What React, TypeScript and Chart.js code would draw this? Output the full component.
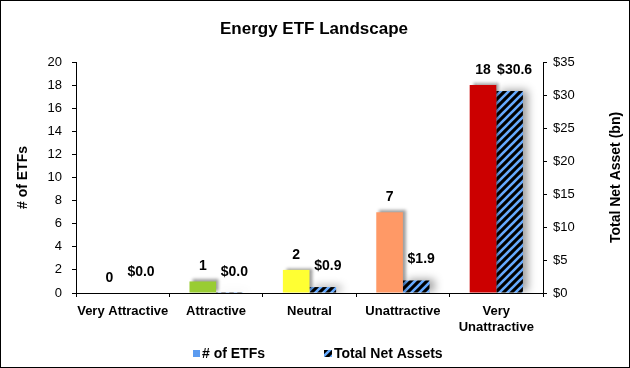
import React, { useEffect, useRef } from 'react';
import { Chart, registerables } from 'chart.js';

Chart.register(...registerables);

const FONT = '"Liberation Sans", Arial, Helvetica, sans-serif';

const chartTitle = 'Energy ETF Landscape';
const categories: (string | string[])[] = ['Very Attractive', 'Attractive', 'Neutral', 'Unattractive', ['Very', 'Unattractive']];
const etfCounts = [0, 1, 2, 7, 18];
const netAssets = [0.0, 0.02, 0.9, 1.9, 30.6];
const countSeriesName = '# of ETFs';
const assetSeriesName = 'Total Net Assets';
const leftAxisTitle = '# of ETFs';
const rightAxisTitle = 'Total Net Asset (bn)';
const leftTicks = { min: 0, max: 20, step: 2 };
const rightTicks = { min: 0, max: 35, step: 5 };
const ratingColors = ['#A6A6A6', '#99CC33', '#FFFF33', '#FF9966', '#CC0000'];
const legendBlue = '#5B9BF0';
const hatchBlue = '#66AAFF';

function makeHatch(): CanvasPattern | string {
  const c = document.createElement('canvas');
  c.width = 8;
  c.height = 8;
  const g = c.getContext('2d');
  if (!g) return hatchBlue;
  g.fillStyle = '#000';
  g.fillRect(0, 0, 8, 8);
  g.strokeStyle = hatchBlue;
  g.lineWidth = 2.6;
  g.beginPath();
  g.moveTo(-2, 10); g.lineTo(10, -2);
  g.moveTo(-6, 6); g.lineTo(6, -6);
  g.moveTo(2, 14); g.lineTo(14, 2);
  g.stroke();
  return g.createPattern(c, 'repeat') || hatchBlue;
}

export default function App() {
  const ref = useRef<HTMLCanvasElement>(null);
  useEffect(() => {
    if (!ref.current) return;
    const hatch = makeHatch();
    const decor = {
      id: 'decor',
      beforeDatasetDraw(chart: any, args: any) {
        const ctx = chart.ctx;
        ctx.save();
        ctx.shadowColor = 'rgba(0,0,0,0.38)';
        if (args.index === 0) {
          ctx.shadowBlur = 3; ctx.shadowOffsetX = 3; ctx.shadowOffsetY = -2;
        } else {
          ctx.shadowBlur = 9; ctx.shadowOffsetX = 5; ctx.shadowOffsetY = -1;
        }
      },
      afterDatasetDraw(chart: any) {
        chart.ctx.restore();
      },
      afterDatasetsDraw(chart: any) {
        const ctx = chart.ctx;
        ctx.save();
        ctx.fillStyle = '#000';
        ctx.font = `bold 14px ${FONT}`;
        ctx.textAlign = 'center';
        ctx.textBaseline = 'middle';
        chart.getDatasetMeta(0).data.forEach((el: any, i: number) => {
          ctx.fillText(String(etfCounts[i]), el.x, el.y - 15);
        });
        chart.getDatasetMeta(1).data.forEach((el: any, i: number) => {
          ctx.fillText('$' + netAssets[i].toFixed(1), el.x + 5, el.y - 21);
        });
        ctx.restore();
      },
      afterDraw(chart: any) {
        const ctx = chart.ctx;
        const ca = chart.chartArea;
        const midY = (ca.top + ca.bottom) / 2;
        ctx.save();
        ctx.fillStyle = '#000';
        ctx.textBaseline = 'middle';
        ctx.textAlign = 'center';
        ctx.font = `bold 17px ${FONT}`;
        ctx.fillText(chartTitle, 314, 29);
        ctx.font = `bold 14px ${FONT}`;
        ctx.save();
        ctx.translate(23, midY);
        ctx.rotate(-Math.PI / 2);
        ctx.fillText(leftAxisTitle, 0, 0);
        ctx.restore();
        ctx.save();
        ctx.translate(616, midY);
        ctx.rotate(-Math.PI / 2);
        ctx.fillText(rightAxisTitle, 0, 0);
        ctx.restore();
        // legend
        ctx.textAlign = 'left';
        ctx.fillStyle = legendBlue;
        ctx.fillRect(193, 350, 7, 7);
        ctx.fillStyle = '#000';
        ctx.fillText(countSeriesName, 202, 354);
        ctx.fillStyle = hatch as any;
        ctx.fillRect(324, 350, 8, 7);
        ctx.fillStyle = '#000';
        ctx.fillText(assetSeriesName, 334, 354);
        // border
        ctx.strokeStyle = '#000';
        ctx.lineWidth = 1;
        ctx.strokeRect(0.5, 0.5, 629, 367);
        ctx.restore();
      },
    };
    const tickFont = { family: FONT, size: 13 };
    const chart = new Chart(ref.current, {
      type: 'bar',
      data: {
        labels: categories as any,
        datasets: [
          {
            label: countSeriesName,
            data: etfCounts,
            yAxisID: 'y',
            backgroundColor: ratingColors,
            borderWidth: 0,
            categoryPercentage: 0.57,
            barPercentage: 1,
          },
          {
            label: assetSeriesName,
            data: netAssets,
            yAxisID: 'y2',
            backgroundColor: hatch as any,
            borderWidth: 0,
            categoryPercentage: 0.57,
            barPercentage: 1,
          },
        ],
      },
      options: {
        responsive: false,
        animation: false,
        layout: { padding: { top: 62, left: 0, right: 0, bottom: 0 } },
        plugins: {
          legend: { display: false },
          title: { display: false },
          tooltip: { enabled: false },
        },
        scales: {
          x: {
            offset: true,
            grid: { offset: true, drawOnChartArea: false, tickLength: 4, color: '#000' },
            border: { color: '#000', width: 1 },
            ticks: { color: '#000', font: { family: FONT, size: 13, weight: 'bold' }, maxRotation: 0, autoSkip: false, padding: 7 },
            afterFit: (s: any) => { s.height = 75; },
          },
          y: {
            position: 'left',
            min: leftTicks.min,
            max: leftTicks.max,
            ticks: { stepSize: leftTicks.step, color: '#000', font: tickFont, padding: 10 },
            grid: { drawOnChartArea: false, tickLength: 4, color: '#000' },
            border: { color: '#000', width: 1 },
            afterFit: (s: any) => { s.width = 76; },
          },
          y2: {
            position: 'right',
            min: rightTicks.min,
            max: rightTicks.max,
            ticks: { stepSize: rightTicks.step, color: '#000', font: tickFont, padding: 6, callback: (v: any) => '$' + v },
            grid: { drawOnChartArea: false, tickLength: 4, color: '#000' },
            border: { color: '#000', width: 1 },
            afterFit: (s: any) => { s.width = 87; },
          },
        },
      } as any,
      plugins: [decor],
    });
    return () => chart.destroy();
  }, []);
  return (
    <div style={{ position: 'fixed', left: 0, top: 0, width: 630, height: 368, background: '#fff' }}>
      <canvas ref={ref} width={630} height={368} style={{ display: 'block', width: 630, height: 368 }} />
    </div>
  );
}
